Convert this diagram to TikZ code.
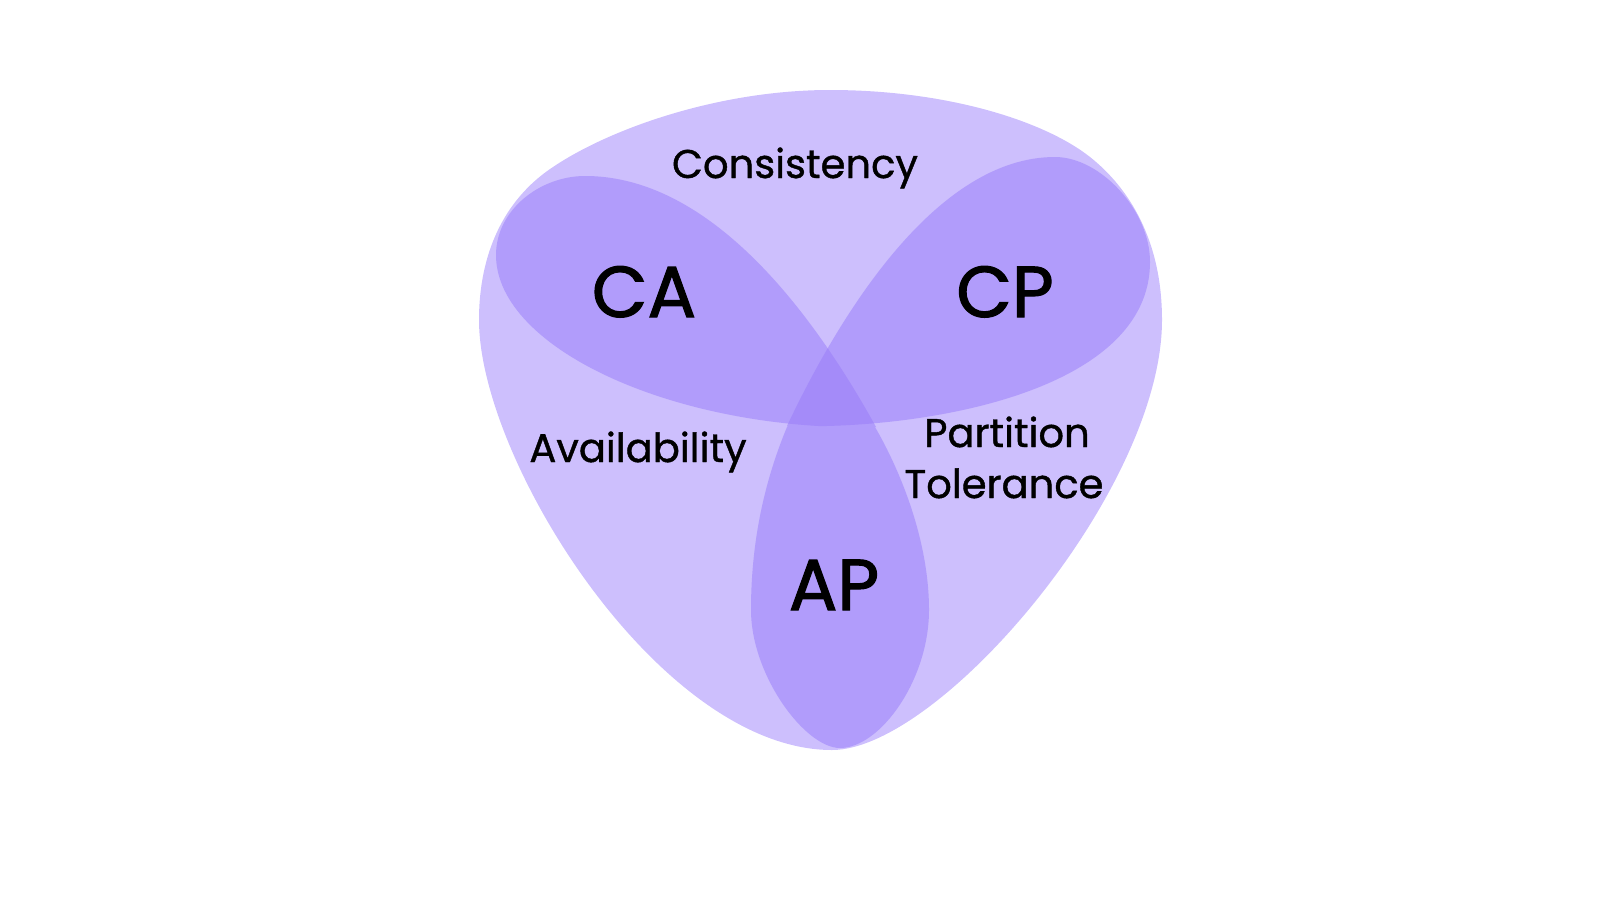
\documentclass[tikz,border=0pt]{standalone}
\usepackage{fontspec}
\setmainfont{Poppins}
\newfontfamily\setfont{Poppins}[FakeBold=1.0]
\newfontfamily\pairfont{Poppins}[FakeBold=1.6]

\definecolor{capouter}{RGB}{205,191,253}
\definecolor{cappetal}{RGB}{177,156,251}
\definecolor{capcore}{RGB}{164,139,249}

% the two upper petals, reused for the overlap
\newcommand{\petalCA}{(876,427) .. controls (818,322) and (715,176) .. (585,176)
    .. controls (540,176) and (496,210) .. (496,255)
    .. controls (496,350) and (680,432) .. (876,427) -- cycle}
\newcommand{\petalCP}{(787,426) .. controls (838,318) and (935,157) .. (1055,157)
    .. controls (1100,157) and (1150,210) .. (1150,262)
    .. controls (1150,390) and (930,430) .. (787,426) -- cycle}

\begin{document}
\begin{tikzpicture}[x=0.01cm, y=-0.01cm,
    setname/.style = {font=\setfont\fontsize{11.4}{14.5}\selectfont, anchor = base},
    pairname/.style = {font=\pairfont\fontsize{20.5}{24}\selectfont, anchor = base}]
    \useasboundingbox (0,0) rectangle (1600,900);

    % outer set
    \fill [capouter] (830,90) .. controls (720,90) and (611,128) .. (553,167)
        .. controls (503,200) and (479,255) .. (479,320)
        .. controls (479,460) and (660,750) .. (832,750)
        .. controls (940,750) and (1162,490) .. (1162,320)
        .. controls (1162,240) and (1129,188) .. (1090,157)
        .. controls (1043,120) and (945,90) .. (830,90) -- cycle;

    % petals
    \fill [cappetal] (787,427) .. controls (765,480) and (751,540) .. (751,610)
        .. controls (751,675) and (805,748) .. (840,748)
        .. controls (880,748) and (929,680) .. (929,610)
        .. controls (929,540) and (900,470) .. (875,427) -- (831,380) -- cycle;
    \fill [cappetal] \petalCA;
    \fill [cappetal] \petalCP;

    \begin{scope}
        \clip \petalCA;
        \fill [capcore] \petalCP;
    \end{scope}

    \node (cons) at (795,178) [setname] {Consistency};
    \node (avail) at (638,462) [setname] {Availability};
    \node (part) at (1007,447) [setname] {Partition};
    \node (tol) at (1004,498) [setname] {Tolerance};

    \node (ca) at (644,317) [pairname] {CA};
    \node (cp) at (1005,317) [pairname] {CP};
    \node (ap) at (834,610) [pairname] {AP};
\end{tikzpicture}
\end{document}
